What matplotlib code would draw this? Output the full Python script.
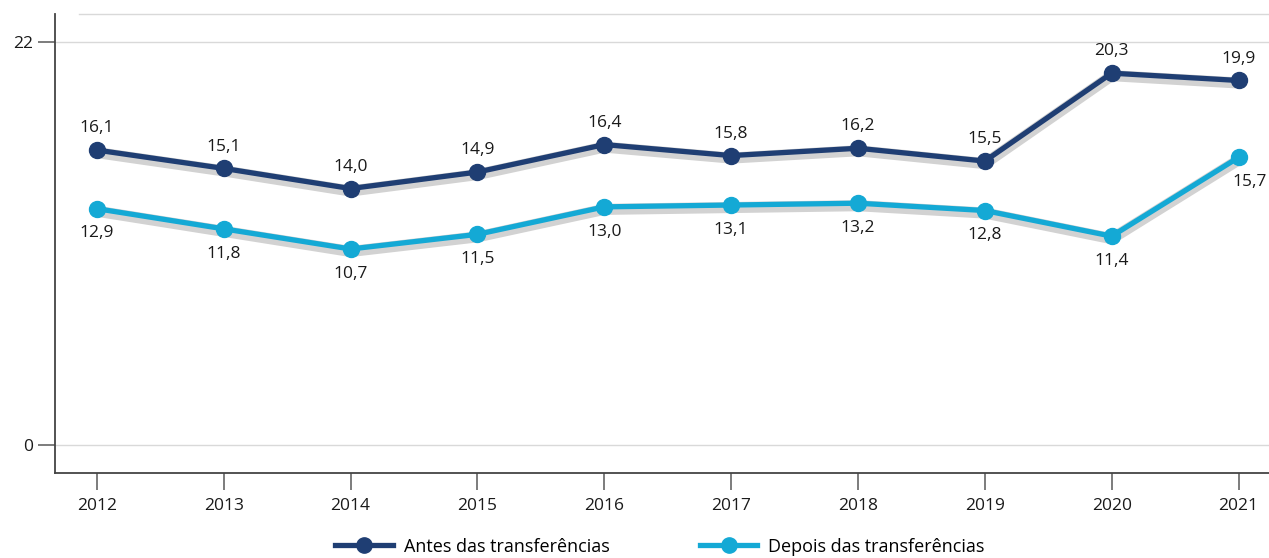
import matplotlib
matplotlib.use("Agg")
import matplotlib.pyplot as plt
import matplotlib.transforms as mtransforms
from matplotlib.lines import Line2D

years = [2012, 2013, 2014, 2015, 2016, 2017, 2018, 2019, 2020, 2021]
antes = [16.1, 15.1, 14.0, 14.9, 16.4, 15.8, 16.2, 15.5, 20.3, 19.9]
depois = [12.9, 11.8, 10.7, 11.5, 13.0, 13.1, 13.2, 12.8, 11.4, 15.7]
series_names = ["Antes das transferências", "Depois das transferências"]
yticks = [0, 22]

plt.rcParams['font.family'] = ['Open Sans', 'DejaVu Sans']

navy = "#1f3e73"
cyan = "#14a9d5"
shadow = "#d2d2d2"

fig = plt.figure(figsize=(12.69, 5.58), dpi=100)
ax = fig.add_axes([55/1269, 1-473/558, 1-55/1269, (473-14)/558])

ax.set_xlim(2011.67, 2021.24)
ax.set_ylim(-1.53, 23.53)

for yv in yticks:
    ax.axhline(yv, color="#d9d9d9", lw=1.0, zorder=0)
ax.plot([0.02, 1.0], [1.0, 1.0], transform=ax.transAxes, color="#d9d9d9", lw=1.0, clip_on=False)

shift = mtransforms.ScaledTranslation(0, -2.5/100, fig.dpi_scale_trans)

def draw(vals, color):
    ax.plot(years, vals, color=shadow, lw=8, solid_capstyle='butt', zorder=1,
            transform=ax.transData + shift)
    ax.plot(years, vals, color=color, lw=3.8, marker='o', markersize=11.5, zorder=3)

draw(antes, navy)
draw(depois, cyan)

for i, (x, a, d) in enumerate(zip(years, antes, depois)):
    ax.annotate(f"{a:.1f}".replace('.', ','), (x, a), xytext=(0, 10), textcoords='offset points',
                ha='center', va='bottom', fontsize=12.5, color='#1a1a1a')
    dx = 8 if i == len(years) - 1 else 0
    ax.annotate(f"{d:.1f}".replace('.', ','), (x, d), xytext=(dx, -12), textcoords='offset points',
                ha='center', va='top', fontsize=12.5, color='#1a1a1a')

ax.set_yticks(yticks)
ax.set_yticklabels([str(v) for v in yticks])
ax.set_xticks(years)
ax.set_xticklabels([str(y) for y in years])
ax.tick_params(axis='both', length=12, width=1.2, color='#666666', labelsize=12.5, labelcolor='#1a1a1a', pad=4)
ax.tick_params(axis='x', pad=6)

for s in ['top', 'right']:
    ax.spines[s].set_visible(False)
for s in ['left', 'bottom']:
    ax.spines[s].set_color('#444444')
    ax.spines[s].set_linewidth(1.3)

handles = [Line2D([], [], color=navy, lw=3.8, marker='o', markersize=11),
           Line2D([], [], color=cyan, lw=3.8, marker='o', markersize=11)]
fig.legend(handles, series_names, loc='lower center', bbox_to_anchor=(0.52, -0.025), ncol=2,
           frameon=False, fontsize=13, handlelength=3.2, columnspacing=5, handletextpad=0.6)

fig.savefig("out.png", dpi=100)
